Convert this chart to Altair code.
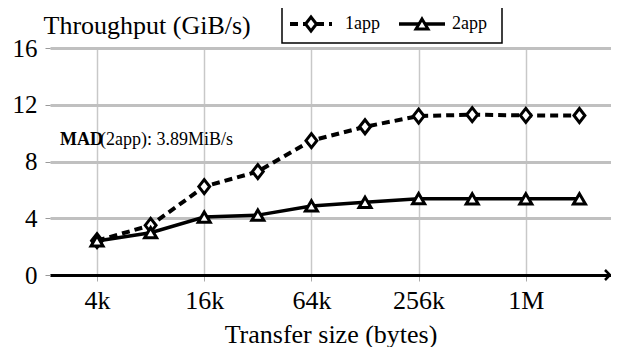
import altair as alt
import pandas as pd

# ---- data ----
sizes = [4096, 8192, 16384, 32768, 65536, 131072, 262144, 524288, 1048576, 2097152]
app1 = [2.42, 3.5, 6.23, 7.29, 9.47, 10.45, 11.2, 11.3, 11.25, 11.24]
app2 = [2.4, 2.98, 4.08, 4.22, 4.87, 5.12, 5.38, 5.37, 5.37, 5.37]
tick_sizes = [4096, 16384, 65536, 262144, 1048576]
y_ticks = [0, 4, 8, 12, 16]

df = pd.DataFrame({"size": sizes, "app1": app1, "app2": app2})
one = pd.DataFrame({"a": [0]})

FONT = "Liberation Serif"
W, H = 561, 227

xscale = alt.Scale(type="log", base=2, domain=[2230, 3155000], nice=False)
yscale = alt.Scale(domain=[0, 16], nice=False, zero=True)

xaxis = alt.Axis(
    values=tick_sizes,
    labelExpr="datum.value >= 1048576 ? format(datum.value/1048576,'d') + 'M' : format(datum.value/1024,'d') + 'k'",
    title="Transfer size (bytes)",
    grid=True, gridColor="#c8c8c8", gridWidth=1.5,
    domainColor="black", domainWidth=3,
    tickColor="#aaaaaa", tickSize=6, tickWidth=1,
    labelPadding=6,
    titleY=59, titleBaseline="middle",
)
yaxis = alt.Axis(
    values=y_ticks,
    grid=True, gridColor="#c0c0c0", gridWidth=3,
    domain=False,
    tickColor="#999999", tickSize=5, tickWidth=1,
    labelPadding=8,
    title="Throughput (GiB/s)", titleAngle=0, titleAlign="left", titleBaseline="alphabetic",
    titleX=-7, titleY=-15,
)

DIAMOND = "M-0.78,0L0,-1L0.78,0L0,1Z"
TRIANGLE = "M0,-0.85L1,0.85L-1,0.85Z"

base = alt.Chart(df)
X = alt.X("size:Q", scale=xscale, axis=xaxis)
line1 = base.mark_line(color="black", strokeWidth=4, strokeDash=[8, 5]).encode(
    x=X, y=alt.Y("app1:Q", scale=yscale, axis=yaxis))
pts1 = base.mark_point(shape=DIAMOND, size=196, filled=True, fill="white", stroke="black",
                       strokeWidth=3, opacity=1).encode(
    x=X, y=alt.Y("app1:Q", scale=yscale, axis=yaxis))
line2 = base.mark_line(color="black", strokeWidth=3.5).encode(
    x=X, y=alt.Y("app2:Q", scale=yscale, axis=yaxis))
pts2 = base.mark_point(shape=TRIANGLE, size=144, filled=True, fill="white", stroke="black",
                       strokeWidth=3, opacity=1).encode(
    x=X, y=alt.Y("app2:Q", scale=yscale, axis=yaxis))

ob = alt.Chart(one)
arrow = ob.mark_point(shape="M-1,-1L0,0L-1,1", filled=False, stroke="black", strokeWidth=2.5,
                      size=100, opacity=1).encode(x=alt.value(W - 1), y=alt.value(H))

# legend
leg_box = ob.mark_rect(fill="white", stroke="black", strokeWidth=1.5).encode(
    x=alt.value(232), x2=alt.value(452), y=alt.value(-42), y2=alt.value(-5))
leg_l1 = ob.mark_rule(color="black", strokeWidth=4, strokeDash=[8, 5]).encode(
    x=alt.value(240), x2=alt.value(282), y=alt.value(-24))
leg_p1 = ob.mark_point(shape=DIAMOND, size=196, filled=True, fill="white", stroke="black",
                       strokeWidth=3, opacity=1).encode(x=alt.value(261), y=alt.value(-24))
leg_t1 = ob.mark_text(align="left", baseline="middle", fontSize=18, color="black").encode(
    x=alt.value(295), y=alt.value(-24), text=alt.value("1app"))
leg_l2 = ob.mark_rule(color="black", strokeWidth=3.5).encode(
    x=alt.value(349), x2=alt.value(395), y=alt.value(-24))
leg_p2 = ob.mark_point(shape=TRIANGLE, size=144, filled=True, fill="white", stroke="black",
                       strokeWidth=3, opacity=1).encode(x=alt.value(372), y=alt.value(-24))
leg_t2 = ob.mark_text(align="left", baseline="middle", fontSize=18, color="black").encode(
    x=alt.value(402), y=alt.value(-24), text=alt.value("2app"))

# annotation
mad_b = ob.mark_text(align="left", baseline="middle", fontSize=18, fontWeight="bold",
                     color="black").encode(x=alt.value(10), y=alt.value(92), text=alt.value("MAD"))
mad_r = ob.mark_text(align="left", baseline="middle", fontSize=18, color="black").encode(
    x=alt.value(50), y=alt.value(92), text=alt.value("(2app): 3.89MiB/s"))

chart = alt.layer(
    line1, pts1, line2, pts2, arrow,
    leg_box, leg_l1, leg_p1, leg_t1, leg_l2, leg_p2, leg_t2,
    mad_b, mad_r,
).properties(
    width=W, height=H,
    autosize=alt.AutoSizeParams(type="none"),
    padding={"left": 42, "top": 40, "right": 0, "bottom": 72},
    background="white",
).configure(
    font=FONT,
).configure_view(stroke=None).configure_axis(
    labelFont=FONT, titleFont=FONT, labelColor="black", titleColor="black",
    titleFontWeight="normal",
).configure_axisX(
    labelFontSize=26, titleFontSize=26,
).configure_axisY(
    labelFontSize=25, titleFontSize=26,
).configure_text(font=FONT)

chart.save("out.html", embed_options={"renderer": "svg", "actions": False})
